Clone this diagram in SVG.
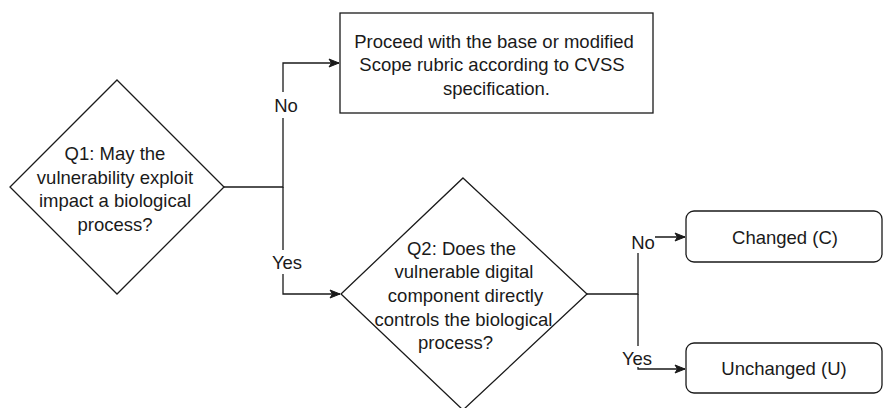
<svg xmlns="http://www.w3.org/2000/svg" width="883" height="408" viewBox="0 0 883 408">
  <style>
    .shape { fill: #ffffff; stroke: #1a1a1a; stroke-width: 1.3; }
    .edge { fill: none; stroke: #1a1a1a; stroke-width: 1.3; }
    .txt { font-family: "Liberation Sans", Arial, sans-serif; font-size: 18.5px; fill: #1a1a1a; text-anchor: middle; }
    .lbl-bg { fill: #ffffff; stroke: none; }
  </style>
  <defs>
    <marker id="arrow" markerUnits="userSpaceOnUse" markerWidth="12" markerHeight="10" refX="11" refY="5" orient="auto">
      <path d="M1,1 L11,5 L1,9 L3.5,5 Z" fill="#1a1a1a" stroke="#1a1a1a" stroke-width="1"/>
    </marker>
  </defs>
  <rect width="883" height="408" fill="#ffffff"/>

  <!-- connectors -->
  <g id="connectors">
    <polyline class="edge" points="224,187 283,187 283,63 339,63" marker-end="url(#arrow)"/>
    <polyline class="edge" points="283,187 283,294 340,294" marker-end="url(#arrow)"/>
    <polyline class="edge" points="587,294 638,294 638,237 685,237" marker-end="url(#arrow)"/>
    <polyline class="edge" points="638,294 638,369 685,369" marker-end="url(#arrow)"/>
    <g id="edge-labels">
      <rect class="lbl-bg" x="272" y="92" width="28" height="26"/>
      <text class="txt" x="286" y="111.5">No</text>
      <rect class="lbl-bg" x="270" y="250" width="34" height="24"/>
      <text class="txt" x="287" y="268.5">Yes</text>
      <rect class="lbl-bg" x="630" y="229" width="25" height="24"/>
      <text class="txt" x="643" y="248.5">No</text>
      <rect class="lbl-bg" x="620" y="346" width="34" height="21"/>
      <text class="txt" x="637" y="364.5">Yes</text>
    </g>
  </g>

  <!-- Q1 decision -->
  <g id="q1">
    <polygon class="shape" points="117,80 224,187 117,294 10,187"/>
    <text class="txt" x="115" y="160">Q1: May the</text>
    <text class="txt" x="115" y="183.5">vulnerability exploit</text>
    <text class="txt" x="115" y="207">impact a biological</text>
    <text class="txt" x="115" y="230.5">process?</text>
  </g>

  <!-- Proceed box -->
  <g id="proceed">
    <rect class="shape" x="340" y="13" width="313" height="100"/>
    <text class="txt" x="494" y="48">Proceed with the base or modified</text>
    <text class="txt" x="492" y="71">Scope rubric according to CVSS</text>
    <text class="txt" x="496.5" y="95">specification.</text>
  </g>

  <!-- Q2 decision -->
  <g id="q2">
    <polygon class="shape" points="463,178 587,294 463,410 341,294"/>
    <text class="txt" x="461.5" y="254.5">Q2: Does the</text>
    <text class="txt" x="464" y="278">vulnerable digital</text>
    <text class="txt" x="465.5" y="301.5">component directly</text>
    <text class="txt" x="463.5" y="325.5">controls the biological</text>
    <text class="txt" x="455.5" y="349">process?</text>
  </g>

  <!-- outcome: changed -->
  <g id="changed">
    <rect class="shape" x="686" y="211" width="196" height="51" rx="8" ry="8"/>
    <text class="txt" x="785" y="243.5">Changed (C)</text>
  </g>

  <!-- outcome: unchanged -->
  <g id="unchanged">
    <rect class="shape" x="686" y="343" width="196" height="50" rx="8" ry="8"/>
    <text class="txt" x="784" y="374.5">Unchanged (U)</text>
  </g>
</svg>
